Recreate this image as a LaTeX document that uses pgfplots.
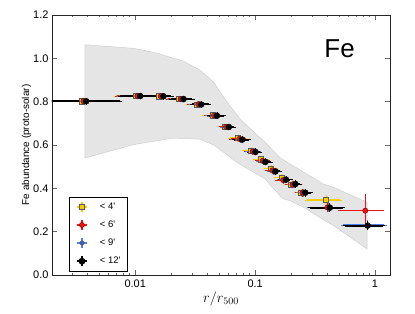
\documentclass[border=0pt]{standalone}
\usepackage{pgfplots}
\pgfplotsset{compat=1.18}
\usepackage{fontspec}
\setmainfont{Liberation Sans}
\definecolor{ygold}{RGB}{245,205,0}
\definecolor{rred}{RGB}{235,20,20}
\definecolor{bblue}{RGB}{85,125,225}
\definecolor{bandfill}{RGB}{229,229,229}
\definecolor{bandedge}{RGB}{208,208,208}

\pgfplotstableread{
x y xm xp ym yp
0.00359 0.802 0.00267 0.00331 0.005 0.005
0.0101 0.826 0.00322 0.00322 0.005 0.005
0.0158 0.825 0.00248 0.00258 0.005 0.005
0.0233 0.812 0.00488 0.00432 0.005 0.005
0.0327 0.787 0.00506 0.00506 0.005 0.005
0.0442 0.737 0.00644 0.00644 0.005 0.005
0.0556 0.684 0.00497 0.00607 0.005 0.005
0.0718 0.632 0.0101 0.0101 0.006 0.006
0.0926 0.574 0.0108 0.00856 0.006 0.006
0.112 0.534 0.0110 0.0120 0.006 0.006
0.136 0.492 0.0116 0.0132 0.006 0.006
0.167 0.450 0.0175 0.0147 0.007 0.007
0.200 0.418 0.0184 0.0184 0.007 0.007
0.241 0.380 0.0230 0.0258 0.008 0.008
0.391 0.346 0.121 0.119 0.015 0.015
}\tyel

\pgfplotstableread{
x y xm xp ym yp
0.00369 0.802 0.00274 0.00340 0.005 0.005
0.0104 0.826 0.00331 0.00331 0.005 0.005
0.0163 0.825 0.00255 0.00265 0.005 0.005
0.0239 0.812 0.00501 0.00444 0.005 0.005
0.0335 0.788 0.00520 0.00520 0.005 0.005
0.0454 0.736 0.00662 0.00662 0.005 0.005
0.0571 0.684 0.00510 0.00624 0.005 0.005
0.0737 0.628 0.0104 0.0104 0.006 0.006
0.0952 0.570 0.0111 0.00879 0.006 0.006
0.115 0.527 0.0113 0.0123 0.006 0.006
0.139 0.483 0.0119 0.0136 0.006 0.006
0.171 0.438 0.0180 0.0151 0.007 0.007
0.205 0.417 0.0189 0.0189 0.007 0.007
0.248 0.380 0.0236 0.0265 0.008 0.008
0.400 0.312 0.120 0.140 0.012 0.012
0.830 0.297 0.320 0.310 0.067 0.068
}\tred

\pgfplotstableread{
x y xm xp ym yp
0.00378 0.802 0.00281 0.00349 0.005 0.005
0.0107 0.826 0.00340 0.00340 0.005 0.005
0.0167 0.825 0.00262 0.00272 0.005 0.005
0.0245 0.812 0.00514 0.00456 0.005 0.005
0.0344 0.787 0.00534 0.00534 0.005 0.005
0.0466 0.735 0.00679 0.00679 0.005 0.005
0.0586 0.683 0.00524 0.00640 0.005 0.005
0.0757 0.626 0.0107 0.0107 0.006 0.006
0.0977 0.569 0.0113 0.00902 0.006 0.006
0.118 0.524 0.0116 0.0126 0.006 0.006
0.143 0.480 0.0122 0.0140 0.006 0.006
0.176 0.440 0.0184 0.0155 0.007 0.007
0.210 0.419 0.0194 0.0194 0.007 0.007
0.254 0.380 0.0243 0.0272 0.008 0.008
0.410 0.311 0.130 0.130 0.010 0.010
0.870 0.230 0.330 0.330 0.012 0.012
}\tblu

\pgfplotstableread{
x y xm xp ym yp
0.0039 0.802 0.0029 0.0036 0.005 0.005
0.0110 0.826 0.0035 0.0035 0.005 0.005
0.0172 0.825 0.0027 0.0028 0.005 0.005
0.0253 0.812 0.0053 0.0047 0.005 0.005
0.0355 0.787 0.0055 0.0055 0.005 0.005
0.0480 0.735 0.0070 0.0070 0.005 0.005
0.0604 0.683 0.0054 0.0066 0.005 0.005
0.0780 0.625 0.0110 0.0110 0.006 0.006
0.1007 0.568 0.0117 0.0093 0.006 0.006
0.122 0.522 0.012 0.013 0.006 0.006
0.1476 0.478 0.0126 0.0144 0.006 0.006
0.181 0.440 0.019 0.016 0.007 0.007
0.217 0.420 0.020 0.020 0.007 0.007
0.262 0.380 0.025 0.028 0.008 0.008
0.420 0.311 0.134 0.122 0.010 0.010
0.870 0.228 0.310 0.290 0.012 0.012
}\tblk

\begin{document}
\begin{tikzpicture}
\begin{axis}[
  name=ax,
  scale only axis,
  width=338bp, height=260bp,
  xmode=log,
  xmin=0.00202, xmax=1.334,
  ymin=0, ymax=1.2,
  xtick={0.01,0.1,1},
  xticklabels={0.01,0.1,1},
  minor xtick={0.003,0.004,0.005,0.006,0.007,0.008,0.009,0.02,0.03,0.04,0.05,0.06,0.07,0.08,0.09,0.2,0.3,0.4,0.5,0.6,0.7,0.8,0.9},
  ytick={0,0.2,0.4,0.6,0.8,1.0,1.2},
  yticklabel style={/pgf/number format/.cd, fixed, fixed zerofill, precision=1, assume math mode=true},
  tick label style={font=\fontsize{11}{13}\selectfont},
  xticklabel style={yshift=-1.5bp},
  tick align=inside,
  major tick length=5bp,
  minor tick length=2.5bp,
  axis line style={black!85, line width=0.9bp},
  tick style={black!60, line width=0.6bp},
  xlabel={$r/r_{500}$},
  ylabel={Fe abundance (proto-solar)},
  x label style={at={(axis description cs:0.5,0)}, anchor=center, yshift=-24bp, font=\fontsize{14}{16}\selectfont},
  y label style={at={(axis description cs:-0.075,0.5)}, anchor=center, font=\fontsize{10}{12}\selectfont},
  legend style={at={(0.049,0.013)}, anchor=south west, draw=black, line width=0.8bp,
     font=\fontsize{9.5}{11}\selectfont, inner xsep=7bp, inner ysep=4bp,
     row sep=6.5bp, column sep=12bp, nodes={inner sep=0bp}},
  legend cell align=left,
  error bars/error mark options={mark size=2.2bp, line width=0.8bp},
]
% scatter band
\addplot[fill=bandfill, draw=bandedge, line width=0.5bp, forget plot] coordinates {
(0.0038,1.063) (0.0097,1.046) (0.015,1.025) (0.0209,1.0) (0.0245,0.99) (0.0348,0.946)
(0.045,0.89) (0.058,0.80) (0.075,0.72) (0.097,0.662) (0.125,0.605) (0.162,0.54)
(0.237,0.485) (0.37,0.42) (0.45,0.405) (0.62,0.37) (0.86,0.336)
(0.86,0.12) (0.46,0.225) (0.37,0.255) (0.25,0.315) (0.195,0.343) (0.17,0.352)
(0.142,0.40) (0.12,0.445) (0.097,0.475) (0.075,0.51) (0.058,0.555) (0.045,0.60)
(0.0348,0.627) (0.0209,0.632) (0.0097,0.602) (0.0038,0.54)
} -- cycle;

\addplot[only marks, color=ygold, mark=square*, mark size=2.6bp,
  mark options={fill=ygold, draw=black!65, line width=0.6bp},
  error bars/.cd, x dir=both, x explicit, y dir=both, y explicit,
  error bar style={color=ygold, line width=1.5bp},
  /pgfplots/legend image code/.code={
    \draw[ygold, line width=1.5bp] (0bp,0bp)--(10bp,0bp) (5bp,-5bp)--(5bp,5bp);
    \draw[mark=square*, mark size=2.6bp, mark options={fill=ygold, draw=black!65, line width=0.6bp}] plot coordinates {(5bp,0bp)};}]
  table[x=x, y=y, x error minus=xm, x error plus=xp, y error minus=ym, y error plus=yp] {\tyel};
\addlegendentry{< 4\textquotesingle}

\addplot[only marks, color=rred, mark=*, mark size=2.6bp,
  mark options={fill=rred, draw=red!60!black, line width=0.5bp},
  error bars/.cd, x dir=both, x explicit, y dir=both, y explicit,
  error bar style={color=rred, line width=1.5bp},
  /pgfplots/legend image code/.code={
    \draw[rred, line width=1.5bp] (0bp,0bp)--(10bp,0bp) (5bp,-5bp)--(5bp,5bp);
    \draw[mark=*, mark size=2.6bp, mark options={fill=rred, draw=red!60!black, line width=0.5bp}] plot coordinates {(5bp,0bp)};}]
  table[x=x, y=y, x error minus=xm, x error plus=xp, y error minus=ym, y error plus=yp] {\tred};
\addlegendentry{< 6\textquotesingle}

\addplot[only marks, color=bblue, mark=*, mark size=2bp,
  mark options={fill=bblue!80!black, draw=bblue!60!black, line width=0.5bp},
  error bars/.cd, x dir=both, x explicit, y dir=both, y explicit,
  error bar style={color=bblue, line width=1.5bp},
  /pgfplots/legend image code/.code={
    \draw[bblue, line width=1.5bp] (0bp,0bp)--(10bp,0bp) (5bp,-5bp)--(5bp,5bp);
    \draw[mark=*, mark size=2bp, mark options={fill=bblue!80!black, draw=bblue!60!black, line width=0.5bp}] plot coordinates {(5bp,0bp)};}]
  table[x=x, y=y, x error minus=xm, x error plus=xp, y error minus=ym, y error plus=yp] {\tblu};
\addlegendentry{< 9\textquotesingle}

\addplot[only marks, color=black, mark=*, mark size=3bp,
  mark options={fill=black},
  error bars/.cd, x dir=both, x explicit, y dir=both, y explicit,
  error bar style={color=black, line width=2bp},
  /pgfplots/legend image code/.code={
    \draw[black, line width=2bp] (0bp,0bp)--(10bp,0bp) (5bp,-5bp)--(5bp,5bp);
    \draw[mark=*, mark size=3bp, mark options={fill=black}] plot coordinates {(5bp,0bp)};}]
  table[x=x, y=y, x error minus=xm, x error plus=xp, y error minus=ym, y error plus=yp] {\tblk};
\addlegendentry{< 12\textquotesingle}

\node[font=\fontsize{26}{30}\selectfont, inner sep=0pt] at (axis cs:0.506,1.043) {Fe};
\end{axis}
\pgfresetboundingbox
\path[use as bounding box] ([shift={(-52bp,-38bp)}]ax.south west) rectangle ([shift={(25bp,15bp)}]ax.north east);
\end{tikzpicture}
\end{document}
